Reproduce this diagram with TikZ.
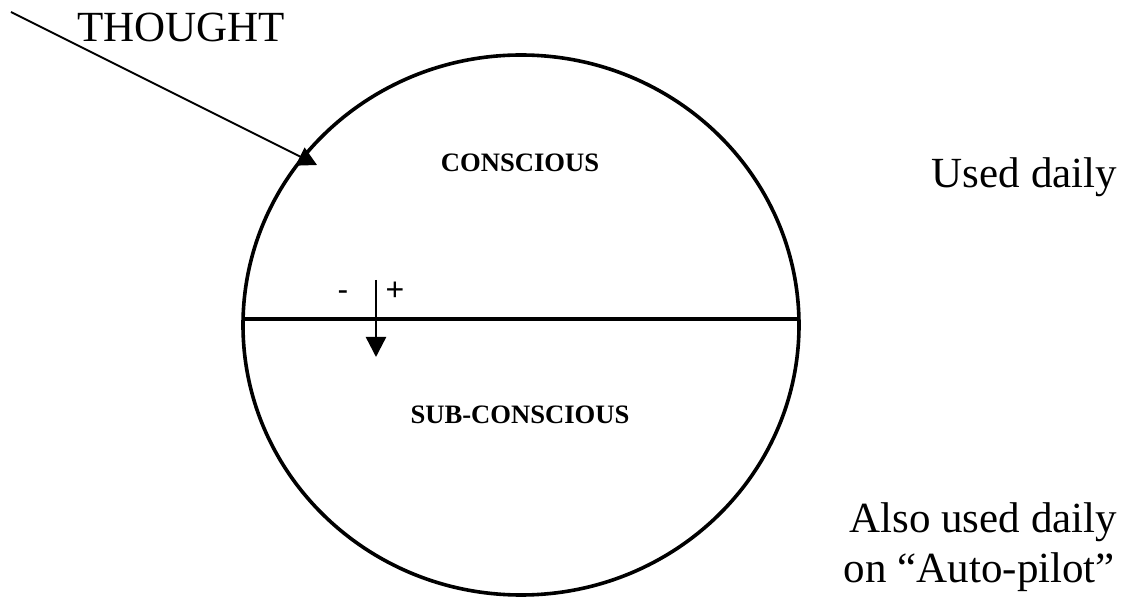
\documentclass[tikz,border=0pt]{standalone}
\usepackage{fontspec}
\setmainfont{Liberation Serif}
\newfontfamily\signfont{Liberation Sans}
\usetikzlibrary{
  shapes.geometric,
  arrows.meta,
  positioning,
  calc
}

\begin{document}
\begin{tikzpicture}[
    x=0.5pt, y=-0.5pt,
    every node/.style={inner sep=0pt, outer sep=0pt},
    bigtext/.style={font=\fontsize{21.5}{25}\selectfont},
    layer/.style={font=\fontsize{13.3}{16}\selectfont\bfseries, anchor=base},
    sign/.style={font=\signfont\fontsize{16}{19}\selectfont, anchor=base},
    mindring/.style={ellipse, draw, line width=1.8pt,
                     minimum width=278pt, minimum height=270pt},
    thoughtarrow/.style={-{Triangle[length=9.5pt, width=10pt]}, line width=0.9pt},
    flowarrow/.style={-{Triangle[length=10pt, width=10pt]}, line width=1.2pt},
]
\useasboundingbox (0,0) rectangle (1125,598);

% The mind
\node[mindring] (mind) at (521,325) {};
\draw[line width=1.8pt] ($(mind.west)+(0,-6)$) -- ($(mind.east)+(0,-6)$);

% Layer labels
\node[layer] (conscious) at (520,172) {CONSCIOUS};
\node[layer] (subconscious) at (520,424) {SUB-CONSCIOUS};

% Incoming thought
\node[bigtext, anchor=base west] (thought) at (77,42) {THOUGHT};
\coordinate (thoughtstart) at (11,12);
\coordinate (thoughtend) at (317,165);
\draw[thoughtarrow] (thoughtstart) -- (thoughtend);

% Flow down into the sub-conscious
\coordinate (flowtop) at (376,280);
\coordinate (flowtip) at (376,357);
\draw[flowarrow] (flowtop) -- (flowtip);
\node[sign] (minus) at (343,301) {-};
\node[sign] (plus) at (395,301) {+};

% Notes on the right
\node[bigtext, anchor=base east] (daily) at (1117,188) {Used daily};
\node[bigtext, anchor=base east] (alsodaily) at (1117,532) {Also used daily};
\node[bigtext, anchor=base east] (autopilot) at (1115,582) {on “Auto-pilot”};

\end{tikzpicture}
\end{document}
